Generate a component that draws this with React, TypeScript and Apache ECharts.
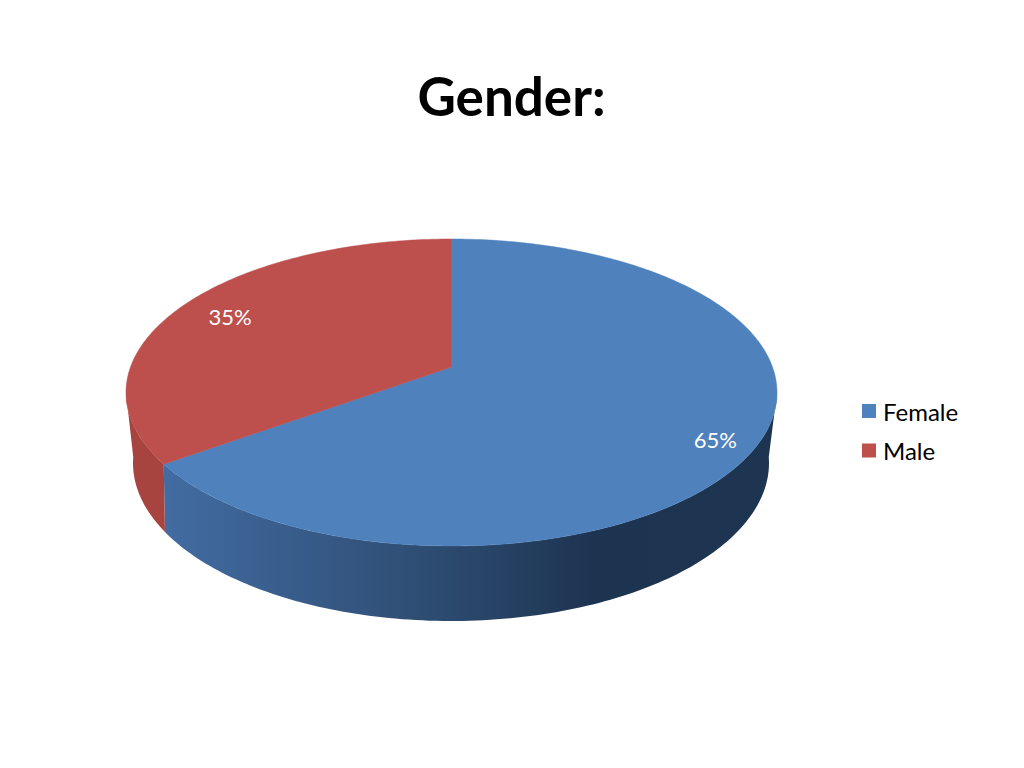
import React, { useEffect, useRef } from "react";
import * as echarts from "echarts";

const titleText = "Gender:";
const categories = ["Female", "Male"];
const shares = [65, 35];
const labels = ["65%", "35%"];
const topColors = ["#4f81bd", "#bd4f4c"];

const FONT = "Lato";
const topEllipse = { cx: 451.5, cy: 392.5, rx: 325.5, ry: 153.5, tilt: -0.166 };
const lowEllipse = { cx: 451, cy: 463, rx: 318, ry: 158, tilt: -0.203 };
const labelOffsets = [[4, 11], [7, 4]];
const LABEL_RADIUS = 0.85;
const STEP = Math.PI / 180;

type Ellipse = typeof topEllipse;

function project(e: Ellipse, theta: number, r = 1): number[] {
  const u = r * Math.sin(theta);
  const v = -r * Math.cos(theta);
  const a = e.tilt;
  const d = 1 + a * v;
  return [e.cx + (e.rx * u * Math.sqrt(1 - a * a)) / d, e.cy + (e.ry * (v + a)) / d];
}

function arc(e: Ellipse, from: number, to: number): number[][] {
  const pts: number[][] = [];
  const n = Math.max(1, Math.ceil(Math.abs(to - from) / STEP));
  for (let i = 0; i <= n; i++) pts.push(project(e, from + ((to - from) * i) / n));
  return pts;
}

const silhouette = Math.acos(topEllipse.tilt);
const wallRange = [silhouette, 2 * Math.PI - silhouette];

const total = shares.reduce((s, v) => s + v, 0);

const wallFills: any[] = [
  {
    type: "linear", x: 1, y: 0, x2: 0, y2: 0,
    colorStops: [
      { offset: 0, color: "#1e3552" },
      { offset: 0.3, color: "#1d3451" },
      { offset: 0.55, color: "#2d4b70" },
      { offset: 1, color: "#426ca2" },
    ],
  },
  "#a7443f",
];

function sliceRenderer(index: number) {
  const before = shares.slice(0, index).reduce((s, v) => s + v, 0);
  return (_params: any, api: any) => {
    const value = api.value(0);
    const start = (before / total) * 2 * Math.PI;
    const end = ((before + value) / total) * 2 * Math.PI;
    const children: any[] = [];
    const wallFrom = Math.max(start, wallRange[0]);
    const wallTo = Math.min(end, wallRange[1]);
    if (wallTo > wallFrom) {
      const points = [...arc(topEllipse, wallFrom, wallTo), ...arc(lowEllipse, wallTo, wallFrom)];
      children.push({ type: "polygon", shape: { points }, style: { fill: wallFills[index] } });
    }
    children.push({
      type: "polygon",
      shape: { points: [project(topEllipse, 0, 0), ...arc(topEllipse, start, end)] },
      style: { fill: topColors[index], stroke: topColors[index], lineWidth: 0.5 },
    });
    const [lx, ly] = project(topEllipse, (start + end) / 2, LABEL_RADIUS);
    children.push({
      type: "text",
      x: lx + labelOffsets[index][0],
      y: ly + labelOffsets[index][1],
      style: {
        text: labels[index],
        fill: "#ffffff",
        fontFamily: FONT,
        fontSize: 22,
        align: "center",
        verticalAlign: "middle",
      },
    });
    return { type: "group", children };
  };
}

export default function App() {
  const ref = useRef<HTMLDivElement>(null);
  useEffect(() => {
    const chart = echarts.init(ref.current!, undefined, { renderer: "svg" });
    chart.setOption({
      animation: false,
      backgroundColor: "#ffffff",
      title: {
        text: titleText,
        left: 506.5,
        top: 64,
        textAlign: "center",
        textStyle: { fontFamily: FONT, fontSize: 53, fontWeight: "bold", color: "#000000" },
      },
      legend: {
        orient: "vertical",
        left: 862,
        top: 399,
        icon: "rect",
        itemWidth: 14,
        itemHeight: 14,
        itemGap: 15.5,
        padding: 0,
        data: categories,
        textStyle: { fontFamily: FONT, fontSize: 24, color: "#000000", padding: [2, 0, 0, 2] },
      },
      series: categories.map((name, i) => ({
        type: "custom",
        name,
        coordinateSystem: "none",
        silent: true,
        itemStyle: { color: topColors[i] },
        data: [[shares[i]]],
        renderItem: sliceRenderer(i),
      })),
    });
    return () => chart.dispose();
  }, []);
  return <div ref={ref} style={{ position: "fixed", left: 0, top: 0, width: 1024, height: 768 }} />;
}
